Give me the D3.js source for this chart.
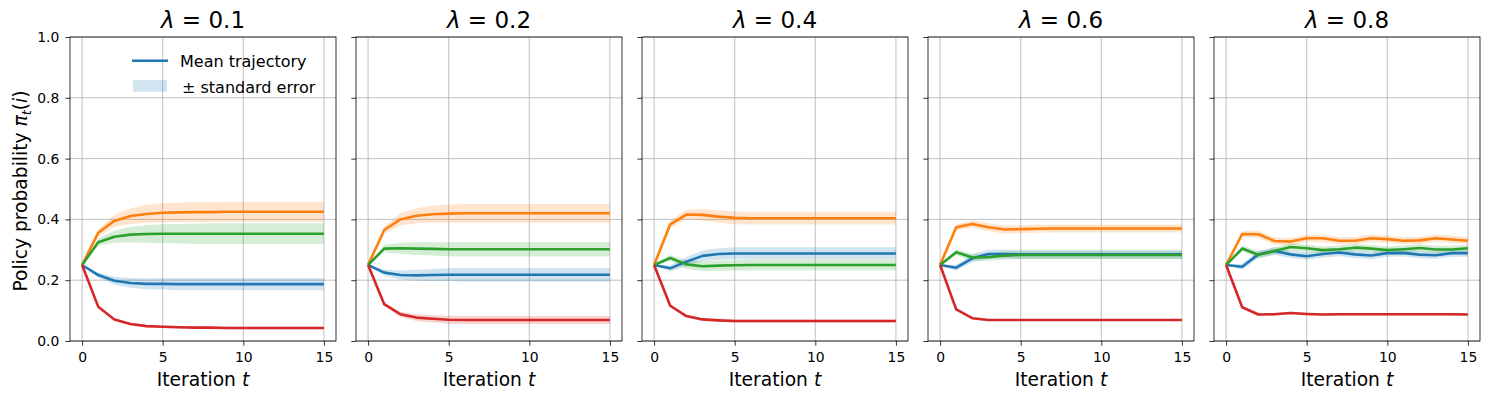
<!DOCTYPE html>
<html>
<head>
<meta charset="utf-8">
<script src="https://cdn.jsdelivr.net/npm/d3@7"></script>
<style>
    body { margin: 0; background: #fff; }
    text { font-family: 'DejaVu Sans', sans-serif; fill: #000; }
    .axis path, .axis line { stroke: #000; stroke-width: 0.8; }
    .axis text { font-size: 13.9px; }
    .grid line { stroke: #b0b0b0; stroke-width: 0.8; }
</style>
</head>
<body>
<div class="chart"></div>
<script>
// Data
const iterations = [0, 1, 2, 3, 4, 5, 6, 7, 8, 9, 10, 11, 12, 13, 14, 15];
const lambdas = ['0.1', '0.2', '0.4', '0.6', '0.8'];
const seriesColors = ['#1f77b4', '#ff7f0e', '#2ca02c', '#d62728'];
const xTicks = [0, 5, 10, 15];
const yTicks = [0.0, 0.2, 0.4, 0.6, 0.8, 1.0];

// mean trajectories, order: blue, orange, green, red
const mean01 = [
    [0.25, 0.217, 0.198, 0.191, 0.188, 0.188, 0.187, 0.187, 0.187, 0.187, 0.187, 0.187, 0.187, 0.187, 0.187, 0.187],
    [0.25, 0.356, 0.395, 0.411, 0.418, 0.422, 0.423, 0.424, 0.424, 0.425, 0.425, 0.425, 0.425, 0.425, 0.425, 0.425],
    [0.25, 0.325, 0.343, 0.350, 0.352, 0.353, 0.353, 0.353, 0.353, 0.353, 0.353, 0.353, 0.353, 0.353, 0.353, 0.353],
    [0.25, 0.113, 0.071, 0.056, 0.049, 0.047, 0.045, 0.044, 0.044, 0.043, 0.043, 0.043, 0.043, 0.043, 0.043, 0.043]
];
const mean02 = [
    [0.25, 0.225, 0.217, 0.216, 0.217, 0.218, 0.218, 0.218, 0.218, 0.218, 0.218, 0.218, 0.218, 0.218, 0.218, 0.218],
    [0.25, 0.365, 0.400, 0.412, 0.417, 0.419, 0.420, 0.420, 0.420, 0.420, 0.420, 0.420, 0.420, 0.420, 0.420, 0.420],
    [0.25, 0.304, 0.305, 0.304, 0.303, 0.302, 0.302, 0.302, 0.302, 0.302, 0.302, 0.302, 0.302, 0.302, 0.302, 0.302],
    [0.25, 0.121, 0.088, 0.077, 0.073, 0.070, 0.069, 0.069, 0.069, 0.069, 0.069, 0.069, 0.069, 0.069, 0.069, 0.069]
];
const mean04 = [
    [0.25, 0.239, 0.261, 0.280, 0.286, 0.288, 0.288, 0.288, 0.288, 0.288, 0.288, 0.288, 0.288, 0.288, 0.288, 0.288],
    [0.25, 0.384, 0.416, 0.415, 0.409, 0.405, 0.404, 0.404, 0.404, 0.404, 0.404, 0.404, 0.404, 0.404, 0.404, 0.404],
    [0.25, 0.273, 0.252, 0.246, 0.248, 0.249, 0.250, 0.250, 0.250, 0.250, 0.250, 0.250, 0.250, 0.250, 0.250, 0.250],
    [0.25, 0.116, 0.082, 0.071, 0.068, 0.066, 0.066, 0.066, 0.066, 0.066, 0.066, 0.066, 0.066, 0.066, 0.066, 0.066]
];
const mean06 = [
    [0.25, 0.241, 0.272, 0.286, 0.286, 0.285, 0.285, 0.285, 0.285, 0.285, 0.285, 0.285, 0.285, 0.285, 0.285, 0.285],
    [0.25, 0.374, 0.385, 0.374, 0.367, 0.368, 0.369, 0.370, 0.370, 0.370, 0.370, 0.370, 0.370, 0.370, 0.370, 0.370],
    [0.25, 0.292, 0.275, 0.276, 0.281, 0.283, 0.283, 0.283, 0.283, 0.283, 0.283, 0.283, 0.283, 0.283, 0.283, 0.283],
    [0.25, 0.104, 0.075, 0.069, 0.069, 0.069, 0.069, 0.069, 0.069, 0.069, 0.069, 0.069, 0.069, 0.069, 0.069, 0.069]
];
const mean08 = [
    [0.25, 0.244, 0.285, 0.296, 0.285, 0.279, 0.286, 0.291, 0.285, 0.281, 0.289, 0.290, 0.284, 0.282, 0.289, 0.289],
    [0.25, 0.352, 0.351, 0.329, 0.327, 0.338, 0.338, 0.330, 0.330, 0.338, 0.335, 0.330, 0.331, 0.338, 0.334, 0.330],
    [0.25, 0.304, 0.284, 0.296, 0.309, 0.305, 0.299, 0.302, 0.307, 0.304, 0.299, 0.302, 0.306, 0.301, 0.301, 0.305],
    [0.25, 0.111, 0.087, 0.088, 0.092, 0.089, 0.087, 0.088, 0.088, 0.088, 0.088, 0.088, 0.088, 0.088, 0.088, 0.087]
];

// standard errors (half band width), same order
const se01 = [
    [0, 0.008, 0.013, 0.016, 0.018, 0.019, 0.020, 0.020, 0.020, 0.020, 0.020, 0.020, 0.020, 0.020, 0.020, 0.020],
    [0, 0.012, 0.020, 0.026, 0.029, 0.031, 0.032, 0.033, 0.033, 0.033, 0.033, 0.033, 0.033, 0.033, 0.033, 0.033],
    [0, 0.012, 0.020, 0.026, 0.029, 0.031, 0.032, 0.033, 0.034, 0.034, 0.034, 0.034, 0.034, 0.034, 0.034, 0.034],
    [0, 0.003, 0.004, 0.004, 0.004, 0.004, 0.004, 0.004, 0.004, 0.004, 0.004, 0.004, 0.004, 0.004, 0.004, 0.004]
];
const se02 = [
    [0, 0.010, 0.015, 0.018, 0.020, 0.021, 0.022, 0.022, 0.022, 0.022, 0.022, 0.022, 0.022, 0.022, 0.022, 0.022],
    [0, 0.012, 0.020, 0.025, 0.028, 0.030, 0.031, 0.031, 0.031, 0.031, 0.031, 0.031, 0.031, 0.031, 0.031, 0.031],
    [0, 0.012, 0.018, 0.021, 0.022, 0.023, 0.024, 0.024, 0.024, 0.024, 0.024, 0.024, 0.024, 0.024, 0.024, 0.024],
    [0, 0.006, 0.009, 0.011, 0.012, 0.013, 0.013, 0.013, 0.013, 0.013, 0.013, 0.013, 0.013, 0.013, 0.013, 0.013]
];
const se04 = [
    [0, 0.010, 0.015, 0.018, 0.019, 0.020, 0.020, 0.020, 0.020, 0.020, 0.020, 0.020, 0.020, 0.020, 0.020, 0.020],
    [0, 0.012, 0.016, 0.019, 0.020, 0.021, 0.021, 0.021, 0.021, 0.021, 0.021, 0.021, 0.021, 0.021, 0.021, 0.021],
    [0, 0.010, 0.014, 0.016, 0.017, 0.017, 0.017, 0.017, 0.017, 0.017, 0.017, 0.017, 0.017, 0.017, 0.017, 0.017],
    [0, 0.004, 0.005, 0.005, 0.005, 0.005, 0.005, 0.005, 0.005, 0.005, 0.005, 0.005, 0.005, 0.005, 0.005, 0.005]
];
const se06 = [
    [0, 0.010, 0.013, 0.014, 0.015, 0.015, 0.015, 0.015, 0.015, 0.015, 0.015, 0.015, 0.015, 0.015, 0.015, 0.015],
    [0, 0.010, 0.012, 0.013, 0.013, 0.013, 0.013, 0.013, 0.013, 0.013, 0.013, 0.013, 0.013, 0.013, 0.013, 0.013],
    [0, 0.010, 0.012, 0.013, 0.013, 0.013, 0.013, 0.013, 0.013, 0.013, 0.013, 0.013, 0.013, 0.013, 0.013, 0.013],
    [0, 0.003, 0.003, 0.003, 0.003, 0.003, 0.003, 0.003, 0.003, 0.003, 0.003, 0.003, 0.003, 0.003, 0.003, 0.003]
];
const se08 = [
    [0, 0.010, 0.012, 0.012, 0.012, 0.012, 0.012, 0.012, 0.012, 0.012, 0.012, 0.012, 0.012, 0.012, 0.012, 0.012],
    [0, 0.010, 0.012, 0.012, 0.012, 0.012, 0.012, 0.012, 0.012, 0.012, 0.012, 0.012, 0.012, 0.012, 0.012, 0.012],
    [0, 0.010, 0.012, 0.012, 0.012, 0.012, 0.012, 0.012, 0.012, 0.012, 0.012, 0.012, 0.012, 0.012, 0.012, 0.012],
    [0, 0.004, 0.004, 0.004, 0.004, 0.004, 0.004, 0.004, 0.004, 0.004, 0.004, 0.004, 0.004, 0.004, 0.004, 0.004]
];

const panelMeans = [mean01, mean02, mean04, mean06, mean08];
const panelSE = [se01, se02, se04, se06, se08];

// Layout
const totalWidth = 1489;
const totalHeight = 399;
const margin = {top: 37, left: 70};
const width = 266;
const height = 304;
const gap = 20;

const svg = d3.select('.chart')
    .append('svg')
    .attr('width', totalWidth)
    .attr('height', totalHeight);

// Scales
const xScale = d3.scaleLinear()
    .domain([-0.75, 15.75])
    .range([0, width]);

const yScale = d3.scaleLinear()
    .domain([0, 1])
    .range([height, 0]);

const line = d3.line()
    .x(d => xScale(d.t))
    .y(d => yScale(d.v));

const area = d3.area()
    .x(d => xScale(d.t))
    .y0(d => yScale(d.v - d.se))
    .y1(d => yScale(d.v + d.se));

lambdas.forEach((lam, p) => {
    const g = svg.append('g')
        .attr('transform', `translate(${margin.left + p * (width + gap)}, ${margin.top})`);

    // grid
    const grid = g.append('g').attr('class', 'grid');
    grid.selectAll('.gx')
        .data(xTicks)
        .enter()
        .append('line')
        .attr('x1', d => xScale(d))
        .attr('x2', d => xScale(d))
        .attr('y1', 0)
        .attr('y2', height);
    grid.selectAll('.gy')
        .data(yTicks)
        .enter()
        .append('line')
        .attr('x1', 0)
        .attr('x2', width)
        .attr('y1', d => yScale(d))
        .attr('y2', d => yScale(d));

    const means = panelMeans[p];
    const ses = panelSE[p];

    // bands first, then lines
    means.forEach((series, s) => {
        const pts = iterations.map((t, i) => ({t: t, v: series[i], se: ses[s][i]}));
        g.append('path')
            .datum(pts)
            .attr('d', area)
            .style('fill', seriesColors[s])
            .style('fill-opacity', 0.2)
            .style('stroke', 'none');
    });
    means.forEach((series, s) => {
        const pts = iterations.map((t, i) => ({t: t, v: series[i]}));
        g.append('path')
            .datum(pts)
            .attr('d', line)
            .style('fill', 'none')
            .style('stroke', seriesColors[s])
            .style('stroke-width', 2.6)
            .style('stroke-linejoin', 'round');
    });

    // axes
    const xAxis = d3.axisBottom(xScale)
        .tickValues(xTicks)
        .tickFormat(d3.format('d'))
        .tickSizeInner(4.67)
        .tickSizeOuter(0)
        .tickPadding(6);
    g.append('g')
        .attr('class', 'x axis')
        .attr('transform', `translate(0, ${height})`)
        .call(xAxis)
        .select('.domain').remove();

    const yAxis = d3.axisLeft(yScale)
        .tickValues(yTicks)
        .tickFormat(p === 0 ? d3.format('.1f') : '')
        .tickSizeInner(4.67)
        .tickSizeOuter(0)
        .tickPadding(6);
    g.append('g')
        .attr('class', 'y axis')
        .call(yAxis)
        .select('.domain').remove();

    // frame
    g.append('rect')
        .attr('width', width)
        .attr('height', height)
        .style('fill', 'none')
        .style('stroke', '#000')
        .style('stroke-width', 0.8);

    // title
    const title = g.append('text')
        .attr('x', width / 2)
        .attr('y', -8.7)
        .attr('text-anchor', 'middle')
        .style('font-size', '23px');
    title.append('tspan').style('font-style', 'italic').text('λ');
    title.append('tspan').text(` = ${lam}`).attr('xml:space', 'preserve');

    // x label
    const xl = g.append('text')
        .attr('x', width / 2)
        .attr('y', height + 45)
        .attr('text-anchor', 'middle')
        .style('font-size', '18.67px');
    xl.append('tspan').text('Iteration ');
    xl.append('tspan').style('font-style', 'italic').text('t');

    // legend in first panel
    if (p === 0) {
        const leg = g.append('g').attr('transform', `translate(62, 0)`);
        leg.append('line')
            .attr('x1', 0).attr('x2', 36)
            .attr('y1', 23.7).attr('y2', 23.7)
            .style('stroke', seriesColors[0])
            .style('stroke-width', 2.6);
        leg.append('text')
            .attr('x', 48).attr('y', 29.5)
            .style('font-size', '16px')
            .text('Mean trajectory');
        leg.append('rect')
            .attr('x', 1).attr('y', 43)
            .attr('width', 34).attr('height', 11.7)
            .style('fill', seriesColors[0])
            .style('fill-opacity', 0.2);
        leg.append('text')
            .attr('x', 50).attr('y', 56)
            .style('font-size', '16px')
            .text('± standard error');

        // y label
        const yl = g.append('text')
            .attr('transform', `translate(-43, ${height / 2 + 2}) rotate(-90)`)
            .attr('text-anchor', 'middle')
            .style('font-size', '18.67px');
        yl.append('tspan').text('Policy probability ');
        yl.append('tspan').style('font-style', 'italic').text('π');
        yl.append('tspan').style('font-style', 'italic').style('font-size', '13px').attr('dy', 4).text('t');
        yl.append('tspan').attr('dy', -4).text('(');
        yl.append('tspan').style('font-style', 'italic').text('i');
        yl.append('tspan').text(')');
    }
});
</script>
</body>
</html>
